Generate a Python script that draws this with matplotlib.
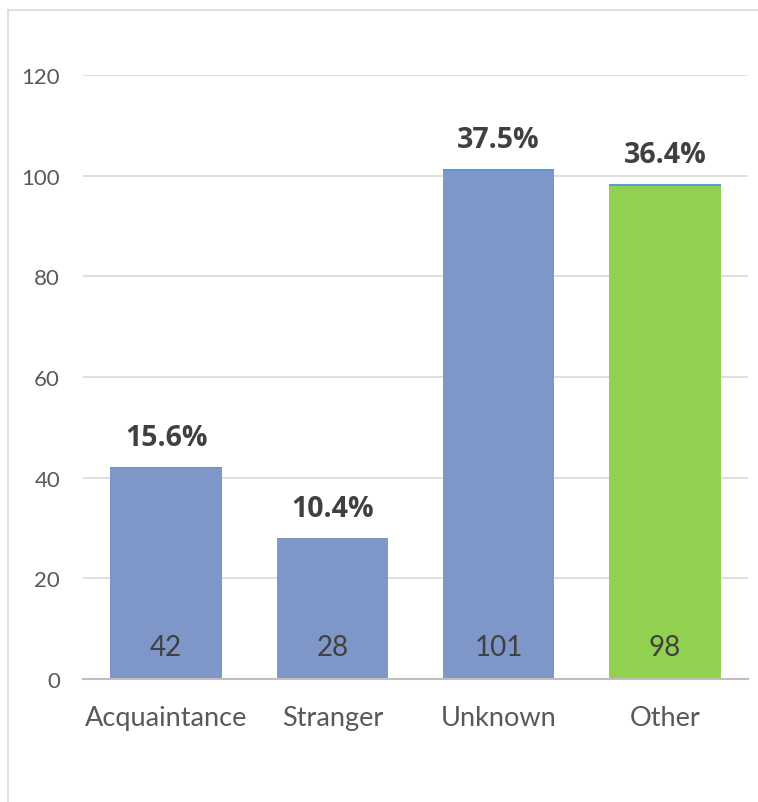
import matplotlib
matplotlib.use("Agg")
import matplotlib.pyplot as plt
from matplotlib.lines import Line2D

categories = ["Acquaintance", "Stranger", "Unknown", "Other"]
counts = [42, 28, 101, 98]
shares = [0.156, 0.104, 0.375, 0.364]
count_colors = ["#7F96C8", "#7F96C8", "#7F96C8", "#92D050"]
share_color = "#5B9BD5"
yticks = [0, 20, 40, 60, 80, 100, 120]

W, H = 758, 803
fig = plt.figure(figsize=(W / 100, H / 100), dpi=100)
fig.patch.set_facecolor("white")

# chart border (partially visible)
fig.add_artist(Line2D([8 / W, 1], [1 - 11 / H, 1 - 11 / H], color="#D9D9D9", lw=1.2, transform=fig.transFigure))
fig.add_artist(Line2D([8 / W, 8 / W], [0, 1 - 11 / H], color="#D9D9D9", lw=1.2, transform=fig.transFigure))

ax = fig.add_axes([83 / W, (H - 680) / H, (748 - 83) / W, (680 - 76) / H])
x = list(range(len(categories)))
bw = 0.67
ax.bar(x, counts, width=bw, color=count_colors, zorder=3)
ax.bar(x, shares, width=bw, bottom=counts, color=share_color, zorder=3)

ax.set_xlim(-0.5, len(categories) - 0.5)
ax.set_ylim(0, 120)
ax.set_yticks(yticks)
ax.set_yticklabels([str(t) for t in yticks])
ax.set_xticks(x)
ax.set_xticklabels(categories)
ax.yaxis.grid(True, color="#D9D9D9", lw=1.2, zorder=0)
ax.set_axisbelow(True)
for s in ["top", "right", "left"]:
    ax.spines[s].set_visible(False)
ax.spines["bottom"].set_color("#BFBFBF")
ax.spines["bottom"].set_linewidth(1.5)
ax.spines["bottom"].set_zorder(4)
ax.tick_params(axis="both", length=0, labelcolor="#595959", colors="#595959")
ax.tick_params(axis="x", pad=19, labelsize=19.5)
ax.tick_params(axis="y", pad=16.5, labelsize=16)
for lab in ax.get_xticklabels() + ax.get_yticklabels():
    lab.set_fontfamily("Lato")

for xi, c, s in zip(x, counts, shares):
    ax.annotate(str(c), xy=(xi, 0), xytext=(0, 32), textcoords="offset pixels",
                ha="center", va="center", fontsize=20, color="#404040", family="Lato", zorder=5)
    ax.annotate(f"{s*100:.1f}%", xy=(xi, c + s), xytext=(0, 29), textcoords="offset pixels",
                ha="center", va="center", fontsize=20.5, fontweight="bold", color="#404040",
                family="Open Sans", zorder=5)

fig.savefig("out.png", dpi=100)
